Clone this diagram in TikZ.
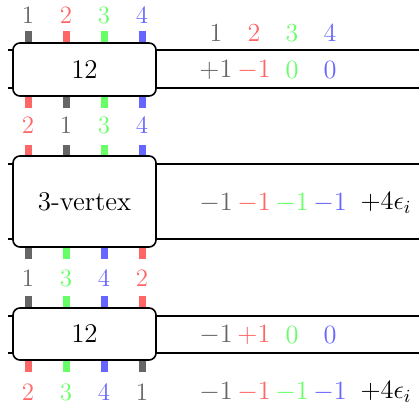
\documentclass[tikz,border=0pt]{standalone}
\usepackage{fix-cm}
\colorlet{c1}{black!60}
\colorlet{c2}{red!60}
\colorlet{c3}{green!60}
\colorlet{c4}{blue!60}
\tikzset{
  blob/.style={draw, thick, fill=white, rounded corners=3.5pt, minimum width=71.5pt, inner sep=0pt, font=\fontsize{13.5}{16}\selectfont},
  leg/.style={line width=3.5pt},
  rail/.style={line width=0.8pt},
  tag/.style={font=\fontsize{12.5}{15}\selectfont},
  head/.style={font=\fontsize{13}{15}\selectfont},
  val/.style={font=\fontsize{13.2}{16}\selectfont},
}
\begin{document}
\begin{tikzpicture}[x=0.5pt,y=-0.5pt]
    \useasboundingbox (0,0) rectangle (419,408);

    % rails behind the boxes
    \draw[rail] (8,50) -- (419,50);
    \draw[rail] (8,88) -- (419,88);
    \draw[rail] (8,164) -- (419,164);
    \draw[rail] (8,239) -- (419,239);
    \draw[rail] (8,316) -- (419,316);
    \draw[rail] (8,353) -- (419,353);

    % legs
    \foreach \c [count=\i] in {c1,c2,c3,c4} \draw[leg,\c] (38*\i-10,31) -- (38*\i-10,44);
    \foreach \c [count=\i] in {c2,c1,c3,c4} \draw[leg,\c] (38*\i-10,95) -- (38*\i-10,108);
    \foreach \c [count=\i] in {c2,c1,c3,c4} \draw[leg,\c] (38*\i-10,145) -- (38*\i-10,157);
    \foreach \c [count=\i] in {c1,c3,c4,c2} \draw[leg,\c] (38*\i-10,246) -- (38*\i-10,259);
    \foreach \c [count=\i] in {c1,c3,c4,c2} \draw[leg,\c] (38*\i-10,296) -- (38*\i-10,309);
    \foreach \c [count=\i] in {c2,c3,c4,c1} \draw[leg,\c] (38*\i-10,359) -- (38*\i-10,372);

    % boxes
    \node[blob, minimum height=26.5pt] (upper) at (84.5,69.5) {12};
    \node[blob, minimum height=45.5pt] (vertex) at (84.5,201.5) {3-vertex};
    \node[blob, minimum height=26pt] (lower) at (84.5,334) {12};

    % leg labels
    \foreach \n/\c [count=\i] in {1/c1,2/c2,3/c3,4/c4} \node[tag,\c] (ta\i) at (38*\i-10,15) {\n};
    \foreach \n/\c [count=\i] in {2/c2,1/c1,3/c3,4/c4} \node[tag,\c] (tb\i) at (38*\i-10,125) {\n};
    \foreach \n/\c [count=\i] in {1/c1,3/c3,4/c4,2/c2} \node[tag,\c] (tc\i) at (38*\i-10,278) {\n};
    \foreach \n/\c [count=\i] in {2/c2,3/c3,4/c4,1/c1} \node[tag,\c] (td\i) at (38*\i-10,392) {\n};

    % charges on the right
    \foreach \n/\c [count=\i] in {1/c1,2/c2,3/c3,4/c4} \node[head,\c] (h\i) at (178+38*\i,33) {\n};
    \foreach \n/\c [count=\i] in {+1/c1,-1/c2,0/c3,0/c4} \node[val,\c] (qa\i) at (178+38*\i,70) {$\n$};
    \foreach \c [count=\i] in {c1,c2,c3,c4} \node[val,\c] (qb\i) at (178+38*\i,203) {$-1$};
    \node[val] (eb) at (386,203) {$+4\epsilon_i$};
    \foreach \n/\c [count=\i] in {-1/c1,+1/c2,0/c3,0/c4} \node[val,\c] (qc\i) at (178+38*\i,335) {$\n$};
    \foreach \c [count=\i] in {c1,c2,c3,c4} \node[val,\c] (qd\i) at (178+38*\i,392) {$-1$};
    \node[val] (ed) at (386,392) {$+4\epsilon_i$};
\end{tikzpicture}
\end{document}
